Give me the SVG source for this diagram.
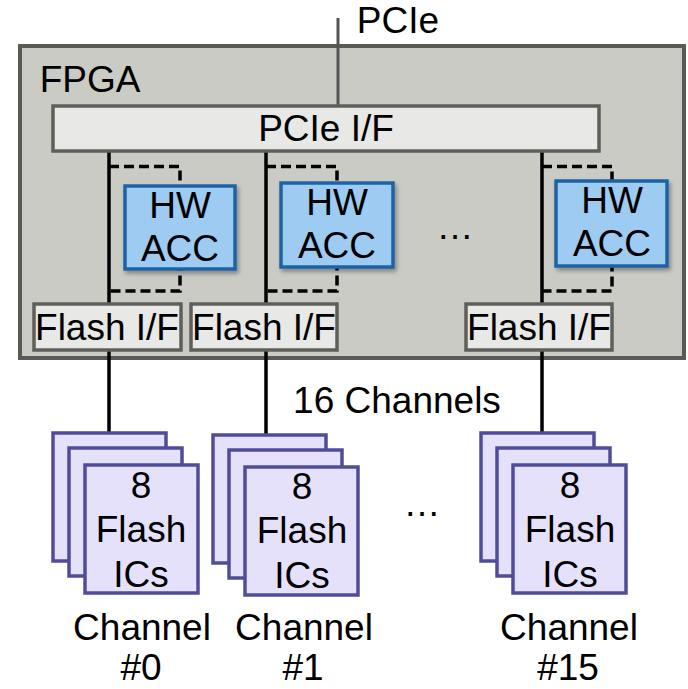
<svg xmlns="http://www.w3.org/2000/svg" width="688" height="689" viewBox="0 0 688 689">
  <style>
    text { font-family: "Liberation Sans", Arial, sans-serif; font-size: 37px; fill: #000; text-anchor: middle; }
    .fpga { fill: #cbcbc6; stroke: #5a5a55; stroke-width: 4; }
    .iface { fill: #e8e8e6; stroke: #5f5f5a; stroke-width: 3.5; }
    .acc { fill: #9dcbf2; stroke: #1f63a6; stroke-width: 3.5; filter: url(#shadow); }
    .chip { fill: #e6e1fb; stroke: #514c9a; stroke-width: 3.5; }
    .bus { fill: none; stroke: #000; stroke-width: 3.5; }
    .dash { fill: none; stroke: #000; stroke-width: 3.5; stroke-dasharray: 10 5; }
    .host { fill: none; stroke: #555; stroke-width: 3; }
  </style>
  <defs>
    <filter id="shadow" x="-20%" y="-20%" width="150%" height="150%">
      <feDropShadow dx="2" dy="3" stdDeviation="2" flood-color="#000" flood-opacity="0.35"/>
    </filter>
    <g id="chip-stack">
      <rect class="chip" x="0" y="0" width="113" height="128"/>
      <rect class="chip" x="16" y="15" width="113" height="128"/>
      <rect class="chip" x="32" y="32" width="113" height="128"/>
    </g>
  </defs>

  <!-- FPGA board -->
  <g id="fpga">
    <rect class="fpga" x="20" y="46" width="664" height="312"/>
    <text x="90" y="92">FPGA</text>
  </g>

  <!-- connectors -->
  <g id="connectors">
    <line class="host" x1="338" y1="18" x2="338" y2="106"/>
    <line class="bus" x1="109" y1="151" x2="109" y2="434"/>
    <line class="bus" x1="266" y1="151" x2="266" y2="436"/>
    <line class="bus" x1="542" y1="151" x2="542" y2="434"/>
    <path class="dash" d="M109 166.5 H180 V291 H109"/>
    <path class="dash" d="M266 166.5 H337 V291 H266"/>
    <path class="dash" d="M542 166.5 H612 V291 H542"/>
  </g>

  <g id="pcie-label">
    <text x="398" y="33">PCIe</text>
  </g>

  <g id="pcie-if">
    <rect class="iface" x="53" y="106" width="546" height="45"/>
    <text x="326" y="141">PCIe I/F</text>
  </g>

  <g id="acc0">
    <rect class="acc" x="125" y="186" width="110" height="83"/>
    <text x="180" y="218">HW</text>
    <text x="180" y="261">ACC</text>
  </g>
  <g id="acc1">
    <rect class="acc" x="281" y="183" width="112" height="84"/>
    <text x="337" y="215">HW</text>
    <text x="337" y="258">ACC</text>
  </g>
  <g id="acc15">
    <rect class="acc" x="556" y="181" width="111" height="85"/>
    <text x="612" y="213">HW</text>
    <text x="612" y="256">ACC</text>
  </g>
  <g id="fpga-dots">
    <text x="455" y="239">…</text>
  </g>

  <g id="flash-if0">
    <rect class="iface" x="34" y="304" width="147" height="46"/>
    <text x="107" y="340">Flash I/F</text>
  </g>
  <g id="flash-if1">
    <rect class="iface" x="191" y="304" width="146" height="46"/>
    <text x="264" y="340">Flash I/F</text>
  </g>
  <g id="flash-if15">
    <rect class="iface" x="466" y="304" width="146" height="46"/>
    <text x="539" y="340">Flash I/F</text>
  </g>

  <g id="channels-label">
    <text x="397" y="413">16 Channels</text>
  </g>

  <g id="channel0">
    <use href="#chip-stack" x="53" y="433"/>
    <text x="141" y="498">8</text>
    <text x="141" y="542">Flash</text>
    <text x="141" y="587">ICs</text>
    <text x="142" y="640">Channel</text>
    <text x="141" y="680">#0</text>
  </g>
  <g id="channel1">
    <use href="#chip-stack" x="213" y="435"/>
    <text x="302" y="499">8</text>
    <text x="302" y="543">Flash</text>
    <text x="302" y="588">ICs</text>
    <text x="304" y="640">Channel</text>
    <text x="303" y="680">#1</text>
  </g>
  <g id="channel15">
    <use href="#chip-stack" x="481" y="433"/>
    <text x="570" y="498">8</text>
    <text x="570" y="542">Flash</text>
    <text x="570" y="587">ICs</text>
    <text x="569" y="640">Channel</text>
    <text x="568" y="680">#15</text>
  </g>
  <g id="channel-dots">
    <text x="422" y="516">…</text>
  </g>
</svg>
